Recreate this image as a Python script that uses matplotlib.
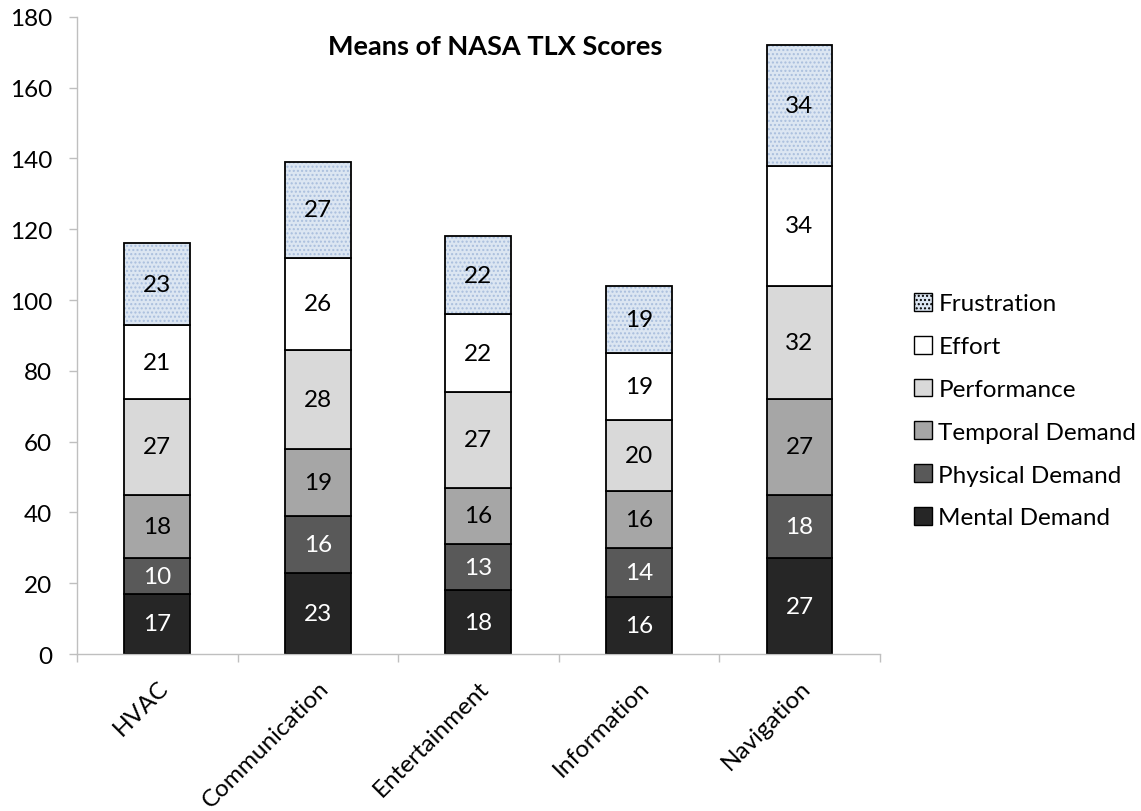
import matplotlib
matplotlib.use("Agg")
import matplotlib.pyplot as plt
import numpy as np
from matplotlib.patches import Patch

plt.rcParams['font.family'] = ['Lato', 'DejaVu Sans']

categories = ["HVAC", "Communication", "Entertainment", "Information", "Navigation"]
series_names = ["Mental Demand", "Physical Demand", "Temporal Demand",
                "Performance", "Effort", "Frustration"]
mental = [17, 23, 18, 16, 27]
physical = [10, 16, 13, 14, 18]
temporal = [18, 19, 16, 16, 27]
performance = [27, 28, 27, 20, 32]
effort = [21, 26, 22, 19, 34]
frustration = [23, 27, 22, 19, 34]
yticks = [0, 20, 40, 60, 80, 100, 120, 140, 160, 180]

series = [mental, physical, temporal, performance, effort, frustration]
fills = ["#262626", "#595959", "#a6a6a6", "#d9d9d9", "#ffffff", "#dce6f2"]
text_colors = ["white", "white", "black", "black", "black", "black"]

FS = 17.5

fig = plt.figure(figsize=(11.41, 8.12), dpi=100)
ax = fig.add_axes([0.0675, 0.1933, 0.7035, 0.7847])

x = np.arange(len(categories))
width = 0.41
bottom = np.zeros(len(categories))
for name, vals, fc, tc in zip(series_names, series, fills, text_colors):
    vals = np.array(vals, dtype=float)
    if name == "Frustration":
        ax.bar(x, vals, width, bottom=bottom, color=fc, hatch="....",
               edgecolor="#a9bedd", linewidth=0, zorder=2)
        ax.bar(x, vals, width, bottom=bottom, fill=False,
               edgecolor="black", linewidth=1.3, zorder=3)
    else:
        ax.bar(x, vals, width, bottom=bottom, color=fc,
               edgecolor="black", linewidth=1.3, zorder=2)
    for xi, b, v in zip(x, bottom, vals):
        ax.text(xi, b + v / 2, f"{v:.0f}", ha="center", va="center",
                color=tc, fontsize=FS, zorder=4)
    bottom += vals

ax.set_xlim(-0.5, len(categories) - 0.5)
ax.set_ylim(0, 180)
ax.set_yticks(yticks)
ax.tick_params(axis="y", labelsize=FS, length=6, color="#bfbfbf", width=1,
               pad=12)
ax.set_xticks(np.arange(len(categories) + 1) - 0.5, minor=False)
ax.set_xticklabels([])
ax.set_xticks(x, minor=True)
ax.set_xticklabels(categories, minor=True, rotation=45, ha="right",
                   rotation_mode="anchor", fontsize=FS)
ax.tick_params(axis="x", which="major", length=6, color="#bfbfbf", width=1)
ax.tick_params(axis="x", which="minor", length=0, pad=16)
for s in ["top", "right"]:
    ax.spines[s].set_visible(False)
for s in ["left", "bottom"]:
    ax.spines[s].set_color("#bfbfbf")
    ax.spines[s].set_linewidth(1)

ax.text(0.521, 0.955, "Means of NASA TLX Scores", transform=ax.transAxes,
        ha="center", va="center", fontsize=19.5, fontweight="bold")

handles = []
for name, fc in zip(series_names, fills):
    if name == "Frustration":
        handles.append(Patch(facecolor=fc, edgecolor="black", hatch="....",
                             linewidth=1))
    else:
        handles.append(Patch(facecolor=fc, edgecolor="black", linewidth=1))
leg = fig.legend(handles[::-1], series_names[::-1], loc="center left",
                 bbox_to_anchor=(0.7925, 0.493), frameon=False, fontsize=FS,
                 handlelength=0.75, handleheight=0.75, handletextpad=0.25,
                 labelspacing=0.88, borderaxespad=0)

fig.savefig("out.png", dpi=100)
